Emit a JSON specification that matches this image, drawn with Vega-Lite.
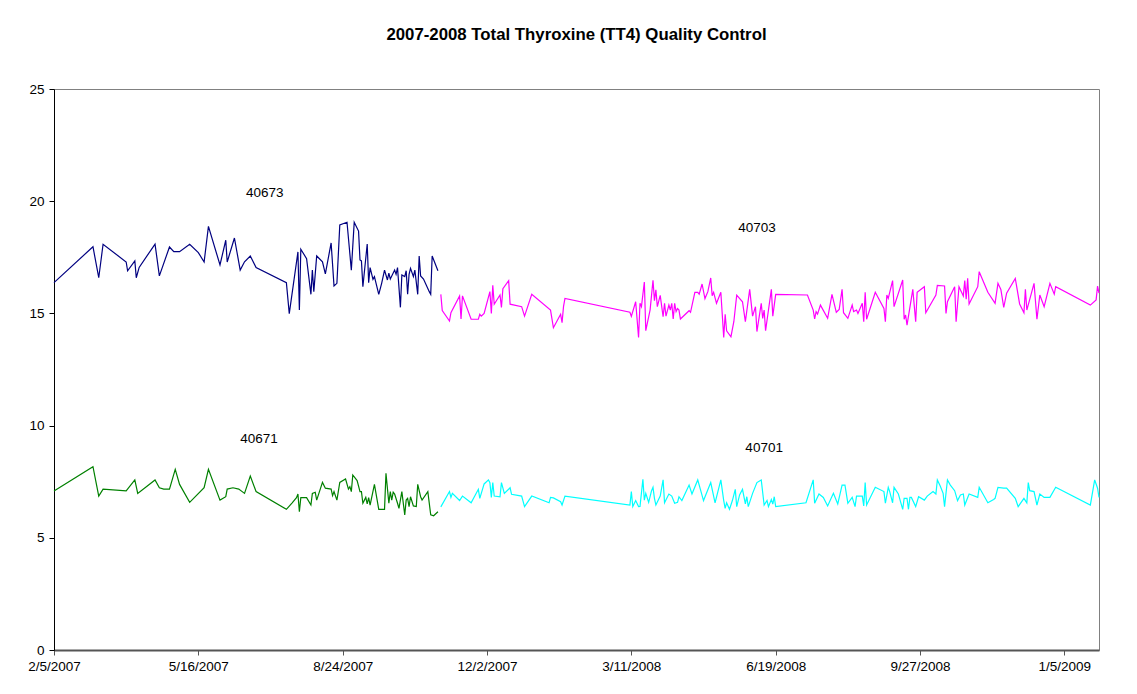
{
  "$schema": "https://vega.github.io/schema/vega-lite/v6.json",
  "autosize": "none",
  "width": 1045,
  "height": 561,
  "padding": {"left": 54, "top": 89, "right": 38, "bottom": 44},
  "background": "white",
  "title": {
    "text": "2007-2008 Total Thyroxine (TT4) Quality Control",
    "font": "Liberation Sans",
    "fontSize": 16.8,
    "fontWeight": "bold",
    "color": "black",
    "anchor": "middle",
    "offset": 38
  },
  "config": {
    "view": {"stroke": "#808080", "strokeWidth": 1},
    "axis": {
      "labelFont": "Liberation Sans",
      "labelFontSize": 13.5,
      "labelColor": "black",
      "grid": false,
      "title": null,
      "tickSize": 5,
      "labelPadding": 3
    }
  },
  "datasets": {
    "qc": [
      {"lot": "40673", "day": 0, "tt4": 16.37},
      {"lot": "40673", "day": 27, "tt4": 17.97},
      {"lot": "40673", "day": 31, "tt4": 16.59},
      {"lot": "40673", "day": 34, "tt4": 18.08},
      {"lot": "40673", "day": 50, "tt4": 17.29},
      {"lot": "40673", "day": 51, "tt4": 16.9},
      {"lot": "40673", "day": 56, "tt4": 17.34},
      {"lot": "40673", "day": 57, "tt4": 16.59},
      {"lot": "40673", "day": 59, "tt4": 17.05},
      {"lot": "40673", "day": 70, "tt4": 18.09},
      {"lot": "40673", "day": 73, "tt4": 16.67},
      {"lot": "40673", "day": 80, "tt4": 17.96},
      {"lot": "40673", "day": 83, "tt4": 17.75},
      {"lot": "40673", "day": 87, "tt4": 17.75},
      {"lot": "40673", "day": 94, "tt4": 18.08},
      {"lot": "40673", "day": 100, "tt4": 17.71},
      {"lot": "40673", "day": 104, "tt4": 17.29},
      {"lot": "40673", "day": 107, "tt4": 18.88},
      {"lot": "40673", "day": 115, "tt4": 17.16},
      {"lot": "40673", "day": 119, "tt4": 18.26},
      {"lot": "40673", "day": 120, "tt4": 17.29},
      {"lot": "40673", "day": 125, "tt4": 18.36},
      {"lot": "40673", "day": 129, "tt4": 16.93},
      {"lot": "40673", "day": 132, "tt4": 17.3},
      {"lot": "40673", "day": 136, "tt4": 17.56},
      {"lot": "40673", "day": 140, "tt4": 17.04},
      {"lot": "40673", "day": 161, "tt4": 16.37},
      {"lot": "40673", "day": 163, "tt4": 14.99},
      {"lot": "40673", "day": 169, "tt4": 17.74},
      {"lot": "40673", "day": 170, "tt4": 15.15},
      {"lot": "40673", "day": 171, "tt4": 17.86},
      {"lot": "40673", "day": 175, "tt4": 17.44},
      {"lot": "40673", "day": 178, "tt4": 15.85},
      {"lot": "40673", "day": 179, "tt4": 16.93},
      {"lot": "40673", "day": 180, "tt4": 15.97},
      {"lot": "40673", "day": 182, "tt4": 17.56},
      {"lot": "40673", "day": 186, "tt4": 17.3},
      {"lot": "40673", "day": 188, "tt4": 16.76},
      {"lot": "40673", "day": 192, "tt4": 18.14},
      {"lot": "40673", "day": 194, "tt4": 16.22},
      {"lot": "40673", "day": 196, "tt4": 16.34},
      {"lot": "40673", "day": 198, "tt4": 18.94},
      {"lot": "40673", "day": 203, "tt4": 19.06},
      {"lot": "40673", "day": 206, "tt4": 16.93},
      {"lot": "40673", "day": 208, "tt4": 19.06},
      {"lot": "40673", "day": 211, "tt4": 18.67},
      {"lot": "40673", "day": 212, "tt4": 17.38},
      {"lot": "40673", "day": 213, "tt4": 17.34},
      {"lot": "40673", "day": 214, "tt4": 16.19},
      {"lot": "40673", "day": 217, "tt4": 18.09},
      {"lot": "40673", "day": 218, "tt4": 16.37},
      {"lot": "40673", "day": 219, "tt4": 17.04},
      {"lot": "40673", "day": 221, "tt4": 16.52},
      {"lot": "40673", "day": 222, "tt4": 16.64},
      {"lot": "40673", "day": 225, "tt4": 15.85},
      {"lot": "40673", "day": 227, "tt4": 16.34},
      {"lot": "40673", "day": 229, "tt4": 16.93},
      {"lot": "40673", "day": 231, "tt4": 16.49},
      {"lot": "40673", "day": 232, "tt4": 16.79},
      {"lot": "40673", "day": 233, "tt4": 16.53},
      {"lot": "40673", "day": 236, "tt4": 16.93},
      {"lot": "40673", "day": 237, "tt4": 16.74},
      {"lot": "40673", "day": 238, "tt4": 17.04},
      {"lot": "40673", "day": 240, "tt4": 15.27},
      {"lot": "40673", "day": 241, "tt4": 16.71},
      {"lot": "40673", "day": 243, "tt4": 16.64},
      {"lot": "40673", "day": 244, "tt4": 16.9},
      {"lot": "40673", "day": 245, "tt4": 15.85},
      {"lot": "40673", "day": 246, "tt4": 16.74},
      {"lot": "40673", "day": 247, "tt4": 17.01},
      {"lot": "40673", "day": 249, "tt4": 16.64},
      {"lot": "40673", "day": 250, "tt4": 16.93},
      {"lot": "40673", "day": 252, "tt4": 15.85},
      {"lot": "40673", "day": 253, "tt4": 17.56},
      {"lot": "40673", "day": 254, "tt4": 16.67},
      {"lot": "40673", "day": 256, "tt4": 16.53},
      {"lot": "40673", "day": 260, "tt4": 15.97},
      {"lot": "40673", "day": 261, "tt4": 15.85},
      {"lot": "40673", "day": 262, "tt4": 17.56},
      {"lot": "40673", "day": 266, "tt4": 16.9},

      {"lot": "40671", "day": 0, "tt4": 7.09},
      {"lot": "40671", "day": 27, "tt4": 8.17},
      {"lot": "40671", "day": 31, "tt4": 6.86},
      {"lot": "40671", "day": 34, "tt4": 7.17},
      {"lot": "40671", "day": 50, "tt4": 7.09},
      {"lot": "40671", "day": 56, "tt4": 7.58},
      {"lot": "40671", "day": 58, "tt4": 6.98},
      {"lot": "40671", "day": 70, "tt4": 7.58},
      {"lot": "40671", "day": 73, "tt4": 7.23},
      {"lot": "40671", "day": 76, "tt4": 7.17},
      {"lot": "40671", "day": 80, "tt4": 7.17},
      {"lot": "40671", "day": 84, "tt4": 8.05},
      {"lot": "40671", "day": 87, "tt4": 7.38},
      {"lot": "40671", "day": 94, "tt4": 6.58},
      {"lot": "40671", "day": 104, "tt4": 7.23},
      {"lot": "40671", "day": 107, "tt4": 8.05},
      {"lot": "40671", "day": 115, "tt4": 6.68},
      {"lot": "40671", "day": 119, "tt4": 6.83},
      {"lot": "40671", "day": 120, "tt4": 7.17},
      {"lot": "40671", "day": 124, "tt4": 7.23},
      {"lot": "40671", "day": 128, "tt4": 7.17},
      {"lot": "40671", "day": 132, "tt4": 6.98},
      {"lot": "40671", "day": 136, "tt4": 7.75},
      {"lot": "40671", "day": 140, "tt4": 7.06},
      {"lot": "40671", "day": 161, "tt4": 6.27},
      {"lot": "40671", "day": 165, "tt4": 6.56},
      {"lot": "40671", "day": 168, "tt4": 6.79},
      {"lot": "40671", "day": 169, "tt4": 6.95},
      {"lot": "40671", "day": 170, "tt4": 6.16},
      {"lot": "40671", "day": 171, "tt4": 6.79},
      {"lot": "40671", "day": 175, "tt4": 6.79},
      {"lot": "40671", "day": 178, "tt4": 6.46},
      {"lot": "40671", "day": 179, "tt4": 6.98},
      {"lot": "40671", "day": 181, "tt4": 7.03},
      {"lot": "40671", "day": 182, "tt4": 6.68},
      {"lot": "40671", "day": 186, "tt4": 7.47},
      {"lot": "40671", "day": 188, "tt4": 7.21},
      {"lot": "40671", "day": 192, "tt4": 7.17},
      {"lot": "40671", "day": 193, "tt4": 6.88},
      {"lot": "40671", "day": 194, "tt4": 7.06},
      {"lot": "40671", "day": 196, "tt4": 6.68},
      {"lot": "40671", "day": 198, "tt4": 7.47},
      {"lot": "40671", "day": 202, "tt4": 7.62},
      {"lot": "40671", "day": 204, "tt4": 7.17},
      {"lot": "40671", "day": 205, "tt4": 7.28},
      {"lot": "40671", "day": 206, "tt4": 7.06},
      {"lot": "40671", "day": 207, "tt4": 7.8},
      {"lot": "40671", "day": 210, "tt4": 7.55},
      {"lot": "40671", "day": 212, "tt4": 7.06},
      {"lot": "40671", "day": 213, "tt4": 7.06},
      {"lot": "40671", "day": 214, "tt4": 6.54},
      {"lot": "40671", "day": 216, "tt4": 6.8},
      {"lot": "40671", "day": 217, "tt4": 6.51},
      {"lot": "40671", "day": 218, "tt4": 6.79},
      {"lot": "40671", "day": 219, "tt4": 6.46},
      {"lot": "40671", "day": 222, "tt4": 7.38},
      {"lot": "40671", "day": 225, "tt4": 6.27},
      {"lot": "40671", "day": 229, "tt4": 6.27},
      {"lot": "40671", "day": 230, "tt4": 7.87},
      {"lot": "40671", "day": 232, "tt4": 6.54},
      {"lot": "40671", "day": 233, "tt4": 7.06},
      {"lot": "40671", "day": 234, "tt4": 6.68},
      {"lot": "40671", "day": 235, "tt4": 7.03},
      {"lot": "40671", "day": 236, "tt4": 6.95},
      {"lot": "40671", "day": 238, "tt4": 6.54},
      {"lot": "40671", "day": 239, "tt4": 6.31},
      {"lot": "40671", "day": 241, "tt4": 7.06},
      {"lot": "40671", "day": 243, "tt4": 6.02},
      {"lot": "40671", "day": 244, "tt4": 6.68},
      {"lot": "40671", "day": 245, "tt4": 6.76},
      {"lot": "40671", "day": 246, "tt4": 6.39},
      {"lot": "40671", "day": 247, "tt4": 6.83},
      {"lot": "40671", "day": 249, "tt4": 6.42},
      {"lot": "40671", "day": 251, "tt4": 6.39},
      {"lot": "40671", "day": 252, "tt4": 7.38},
      {"lot": "40671", "day": 254, "tt4": 6.83},
      {"lot": "40671", "day": 255, "tt4": 6.68},
      {"lot": "40671", "day": 259, "tt4": 7.06},
      {"lot": "40671", "day": 261, "tt4": 6.02},
      {"lot": "40671", "day": 263, "tt4": 5.98},
      {"lot": "40671", "day": 266, "tt4": 6.16},

      {"lot": "40703", "day": 268, "tt4": 15.85},
      {"lot": "40703", "day": 269, "tt4": 15.13},
      {"lot": "40703", "day": 274, "tt4": 14.66},
      {"lot": "40703", "day": 275, "tt4": 15.03},
      {"lot": "40703", "day": 281, "tt4": 15.78},
      {"lot": "40703", "day": 282, "tt4": 14.75},
      {"lot": "40703", "day": 283, "tt4": 15.78},
      {"lot": "40703", "day": 289, "tt4": 14.74},
      {"lot": "40703", "day": 294, "tt4": 14.74},
      {"lot": "40703", "day": 295, "tt4": 14.96},
      {"lot": "40703", "day": 296, "tt4": 14.88},
      {"lot": "40703", "day": 298, "tt4": 15.0},
      {"lot": "40703", "day": 302, "tt4": 15.97},
      {"lot": "40703", "day": 303, "tt4": 15.0},
      {"lot": "40703", "day": 304, "tt4": 16.25},
      {"lot": "40703", "day": 305, "tt4": 15.41},
      {"lot": "40703", "day": 309, "tt4": 15.82},
      {"lot": "40703", "day": 310, "tt4": 15.27},
      {"lot": "40703", "day": 311, "tt4": 16.1},
      {"lot": "40703", "day": 315, "tt4": 16.46},
      {"lot": "40703", "day": 316, "tt4": 15.41},
      {"lot": "40703", "day": 324, "tt4": 15.3},
      {"lot": "40703", "day": 326, "tt4": 14.88},
      {"lot": "40703", "day": 331, "tt4": 15.85},
      {"lot": "40703", "day": 344, "tt4": 15.15},
      {"lot": "40703", "day": 346, "tt4": 14.36},
      {"lot": "40703", "day": 351, "tt4": 14.96},
      {"lot": "40703", "day": 352, "tt4": 14.59},
      {"lot": "40703", "day": 353, "tt4": 15.3},
      {"lot": "40703", "day": 354, "tt4": 15.67},
      {"lot": "40703", "day": 399, "tt4": 15.05},
      {"lot": "40703", "day": 400, "tt4": 14.87},
      {"lot": "40703", "day": 403, "tt4": 15.52},
      {"lot": "40703", "day": 405, "tt4": 13.93},
      {"lot": "40703", "day": 406, "tt4": 15.45},
      {"lot": "40703", "day": 407, "tt4": 15.3},
      {"lot": "40703", "day": 409, "tt4": 16.4},
      {"lot": "40703", "day": 410, "tt4": 14.23},
      {"lot": "40703", "day": 413, "tt4": 15.16},
      {"lot": "40703", "day": 415, "tt4": 16.48},
      {"lot": "40703", "day": 416, "tt4": 15.57},
      {"lot": "40703", "day": 417, "tt4": 16.05},
      {"lot": "40703", "day": 418, "tt4": 15.3},
      {"lot": "40703", "day": 420, "tt4": 15.8},
      {"lot": "40703", "day": 422, "tt4": 14.85},
      {"lot": "40703", "day": 423, "tt4": 15.45},
      {"lot": "40703", "day": 424, "tt4": 14.88},
      {"lot": "40703", "day": 426, "tt4": 15.37},
      {"lot": "40703", "day": 427, "tt4": 15.15},
      {"lot": "40703", "day": 428, "tt4": 15.45},
      {"lot": "40703", "day": 429, "tt4": 14.75},
      {"lot": "40703", "day": 430, "tt4": 15.45},
      {"lot": "40703", "day": 431, "tt4": 15.08},
      {"lot": "40703", "day": 432, "tt4": 15.22},
      {"lot": "40703", "day": 433, "tt4": 15.15},
      {"lot": "40703", "day": 434, "tt4": 14.75},
      {"lot": "40703", "day": 440, "tt4": 15.12},
      {"lot": "40703", "day": 441, "tt4": 15.05},
      {"lot": "40703", "day": 444, "tt4": 15.94},
      {"lot": "40703", "day": 446, "tt4": 15.94},
      {"lot": "40703", "day": 447, "tt4": 15.86},
      {"lot": "40703", "day": 449, "tt4": 16.31},
      {"lot": "40703", "day": 451, "tt4": 15.66},
      {"lot": "40703", "day": 453, "tt4": 15.97},
      {"lot": "40703", "day": 455, "tt4": 16.58},
      {"lot": "40703", "day": 456, "tt4": 15.79},
      {"lot": "40703", "day": 457, "tt4": 15.94},
      {"lot": "40703", "day": 459, "tt4": 15.45},
      {"lot": "40703", "day": 462, "tt4": 15.94},
      {"lot": "40703", "day": 464, "tt4": 13.93},
      {"lot": "40703", "day": 465, "tt4": 14.96},
      {"lot": "40703", "day": 466, "tt4": 14.22},
      {"lot": "40703", "day": 469, "tt4": 13.96},
      {"lot": "40703", "day": 471, "tt4": 14.63},
      {"lot": "40703", "day": 473, "tt4": 15.81},
      {"lot": "40703", "day": 477, "tt4": 15.52},
      {"lot": "40703", "day": 479, "tt4": 14.63},
      {"lot": "40703", "day": 482, "tt4": 16.07},
      {"lot": "40703", "day": 484, "tt4": 14.88},
      {"lot": "40703", "day": 486, "tt4": 15.3},
      {"lot": "40703", "day": 487, "tt4": 14.19},
      {"lot": "40703", "day": 490, "tt4": 15.45},
      {"lot": "40703", "day": 491, "tt4": 14.78},
      {"lot": "40703", "day": 492, "tt4": 15.15},
      {"lot": "40703", "day": 493, "tt4": 14.23},
      {"lot": "40703", "day": 495, "tt4": 15.15},
      {"lot": "40703", "day": 497, "tt4": 16.07},
      {"lot": "40703", "day": 498, "tt4": 14.88},
      {"lot": "40703", "day": 500, "tt4": 15.85},
      {"lot": "40703", "day": 522, "tt4": 15.82},
      {"lot": "40703", "day": 526, "tt4": 15.15},
      {"lot": "40703", "day": 527, "tt4": 14.75},
      {"lot": "40703", "day": 528, "tt4": 15.08},
      {"lot": "40703", "day": 529, "tt4": 14.97},
      {"lot": "40703", "day": 531, "tt4": 15.37},
      {"lot": "40703", "day": 536, "tt4": 14.78},
      {"lot": "40703", "day": 539, "tt4": 15.85},
      {"lot": "40703", "day": 542, "tt4": 15.05},
      {"lot": "40703", "day": 544, "tt4": 15.18},
      {"lot": "40703", "day": 546, "tt4": 16.07},
      {"lot": "40703", "day": 547, "tt4": 15.03},
      {"lot": "40703", "day": 550, "tt4": 14.78},
      {"lot": "40703", "day": 553, "tt4": 15.37},
      {"lot": "40703", "day": 554, "tt4": 15.08},
      {"lot": "40703", "day": 556, "tt4": 15.15},
      {"lot": "40703", "day": 557, "tt4": 15.0},
      {"lot": "40703", "day": 560, "tt4": 15.45},
      {"lot": "40703", "day": 561, "tt4": 14.63},
      {"lot": "40703", "day": 562, "tt4": 15.94},
      {"lot": "40703", "day": 563, "tt4": 14.74},
      {"lot": "40703", "day": 569, "tt4": 15.94},
      {"lot": "40703", "day": 575, "tt4": 15.22},
      {"lot": "40703", "day": 576, "tt4": 14.63},
      {"lot": "40703", "day": 577, "tt4": 15.82},
      {"lot": "40703", "day": 578, "tt4": 15.67},
      {"lot": "40703", "day": 581, "tt4": 16.46},
      {"lot": "40703", "day": 582, "tt4": 15.3},
      {"lot": "40703", "day": 588, "tt4": 16.49},
      {"lot": "40703", "day": 589, "tt4": 14.74},
      {"lot": "40703", "day": 590, "tt4": 14.93},
      {"lot": "40703", "day": 591, "tt4": 14.48},
      {"lot": "40703", "day": 595, "tt4": 16.07},
      {"lot": "40703", "day": 597, "tt4": 14.63},
      {"lot": "40703", "day": 598, "tt4": 15.94},
      {"lot": "40703", "day": 603, "tt4": 16.19},
      {"lot": "40703", "day": 604, "tt4": 15.03},
      {"lot": "40703", "day": 611, "tt4": 15.82},
      {"lot": "40703", "day": 612, "tt4": 16.25},
      {"lot": "40703", "day": 617, "tt4": 16.22},
      {"lot": "40703", "day": 618, "tt4": 15.0},
      {"lot": "40703", "day": 619, "tt4": 15.52},
      {"lot": "40703", "day": 624, "tt4": 16.19},
      {"lot": "40703", "day": 625, "tt4": 14.63},
      {"lot": "40703", "day": 627, "tt4": 16.19},
      {"lot": "40703", "day": 630, "tt4": 15.78},
      {"lot": "40703", "day": 631, "tt4": 16.46},
      {"lot": "40703", "day": 632, "tt4": 15.63},
      {"lot": "40703", "day": 633, "tt4": 16.56},
      {"lot": "40703", "day": 634, "tt4": 15.42},
      {"lot": "40703", "day": 640, "tt4": 16.19},
      {"lot": "40703", "day": 641, "tt4": 16.86},
      {"lot": "40703", "day": 647, "tt4": 15.94},
      {"lot": "40703", "day": 652, "tt4": 15.45},
      {"lot": "40703", "day": 654, "tt4": 16.34},
      {"lot": "40703", "day": 656, "tt4": 16.07},
      {"lot": "40703", "day": 658, "tt4": 15.27},
      {"lot": "40703", "day": 660, "tt4": 15.9},
      {"lot": "40703", "day": 666, "tt4": 16.56},
      {"lot": "40703", "day": 669, "tt4": 15.42},
      {"lot": "40703", "day": 672, "tt4": 15.03},
      {"lot": "40703", "day": 673, "tt4": 16.07},
      {"lot": "40703", "day": 674, "tt4": 15.15},
      {"lot": "40703", "day": 679, "tt4": 16.34},
      {"lot": "40703", "day": 681, "tt4": 14.74},
      {"lot": "40703", "day": 683, "tt4": 15.82},
      {"lot": "40703", "day": 686, "tt4": 15.3},
      {"lot": "40703", "day": 690, "tt4": 16.34},
      {"lot": "40703", "day": 693, "tt4": 15.86},
      {"lot": "40703", "day": 694, "tt4": 16.19},
      {"lot": "40703", "day": 718, "tt4": 15.37},
      {"lot": "40703", "day": 722, "tt4": 15.6},
      {"lot": "40703", "day": 723, "tt4": 16.22},
      {"lot": "40703", "day": 724, "tt4": 15.9},

      {"lot": "40701", "day": 268, "tt4": 6.38},
      {"lot": "40701", "day": 274, "tt4": 7.06},
      {"lot": "40701", "day": 275, "tt4": 6.8},
      {"lot": "40701", "day": 276, "tt4": 6.98},
      {"lot": "40701", "day": 281, "tt4": 6.66},
      {"lot": "40701", "day": 283, "tt4": 6.86},
      {"lot": "40701", "day": 289, "tt4": 6.56},
      {"lot": "40701", "day": 294, "tt4": 7.16},
      {"lot": "40701", "day": 295, "tt4": 6.76},
      {"lot": "40701", "day": 298, "tt4": 7.4},
      {"lot": "40701", "day": 301, "tt4": 7.58},
      {"lot": "40701", "day": 302, "tt4": 7.46},
      {"lot": "40701", "day": 303, "tt4": 6.8},
      {"lot": "40701", "day": 304, "tt4": 7.46},
      {"lot": "40701", "day": 305, "tt4": 6.86},
      {"lot": "40701", "day": 309, "tt4": 6.83},
      {"lot": "40701", "day": 310, "tt4": 7.46},
      {"lot": "40701", "day": 312, "tt4": 6.98},
      {"lot": "40701", "day": 316, "tt4": 7.23},
      {"lot": "40701", "day": 317, "tt4": 6.94},
      {"lot": "40701", "day": 324, "tt4": 6.86},
      {"lot": "40701", "day": 326, "tt4": 6.39},
      {"lot": "40701", "day": 331, "tt4": 6.86},
      {"lot": "40701", "day": 343, "tt4": 6.56},
      {"lot": "40701", "day": 344, "tt4": 6.8},
      {"lot": "40701", "day": 346, "tt4": 6.78},
      {"lot": "40701", "day": 351, "tt4": 6.61},
      {"lot": "40701", "day": 352, "tt4": 6.46},
      {"lot": "40701", "day": 354, "tt4": 6.86},
      {"lot": "40701", "day": 399, "tt4": 6.46},
      {"lot": "40701", "day": 400, "tt4": 7.06},
      {"lot": "40701", "day": 401, "tt4": 6.39},
      {"lot": "40701", "day": 403, "tt4": 6.66},
      {"lot": "40701", "day": 405, "tt4": 6.39},
      {"lot": "40701", "day": 406, "tt4": 6.4},
      {"lot": "40701", "day": 408, "tt4": 7.61},
      {"lot": "40701", "day": 409, "tt4": 6.68},
      {"lot": "40701", "day": 410, "tt4": 6.98},
      {"lot": "40701", "day": 412, "tt4": 6.58},
      {"lot": "40701", "day": 414, "tt4": 7.1},
      {"lot": "40701", "day": 415, "tt4": 7.25},
      {"lot": "40701", "day": 416, "tt4": 6.76},
      {"lot": "40701", "day": 417, "tt4": 6.46},
      {"lot": "40701", "day": 420, "tt4": 6.86},
      {"lot": "40701", "day": 422, "tt4": 7.58},
      {"lot": "40701", "day": 423, "tt4": 6.56},
      {"lot": "40701", "day": 426, "tt4": 6.95},
      {"lot": "40701", "day": 428, "tt4": 6.86},
      {"lot": "40701", "day": 430, "tt4": 6.54},
      {"lot": "40701", "day": 432, "tt4": 6.58},
      {"lot": "40701", "day": 433, "tt4": 6.83},
      {"lot": "40701", "day": 435, "tt4": 6.66},
      {"lot": "40701", "day": 440, "tt4": 7.35},
      {"lot": "40701", "day": 442, "tt4": 6.95},
      {"lot": "40701", "day": 446, "tt4": 7.58},
      {"lot": "40701", "day": 450, "tt4": 6.66},
      {"lot": "40701", "day": 455, "tt4": 7.46},
      {"lot": "40701", "day": 458, "tt4": 6.56},
      {"lot": "40701", "day": 462, "tt4": 7.58},
      {"lot": "40701", "day": 464, "tt4": 6.66},
      {"lot": "40701", "day": 465, "tt4": 6.31},
      {"lot": "40701", "day": 466, "tt4": 6.56},
      {"lot": "40701", "day": 468, "tt4": 6.27},
      {"lot": "40701", "day": 470, "tt4": 6.66},
      {"lot": "40701", "day": 472, "tt4": 7.16},
      {"lot": "40701", "day": 473, "tt4": 6.39},
      {"lot": "40701", "day": 475, "tt4": 6.91},
      {"lot": "40701", "day": 477, "tt4": 7.16},
      {"lot": "40701", "day": 479, "tt4": 6.51},
      {"lot": "40701", "day": 480, "tt4": 6.83},
      {"lot": "40701", "day": 481, "tt4": 6.39},
      {"lot": "40701", "day": 484, "tt4": 6.98},
      {"lot": "40701", "day": 487, "tt4": 7.46},
      {"lot": "40701", "day": 490, "tt4": 7.58},
      {"lot": "40701", "day": 492, "tt4": 6.46},
      {"lot": "40701", "day": 494, "tt4": 6.66},
      {"lot": "40701", "day": 495, "tt4": 6.39},
      {"lot": "40701", "day": 497, "tt4": 6.71},
      {"lot": "40701", "day": 498, "tt4": 6.5},
      {"lot": "40701", "day": 499, "tt4": 6.83},
      {"lot": "40701", "day": 500, "tt4": 6.39},
      {"lot": "40701", "day": 521, "tt4": 6.56},
      {"lot": "40701", "day": 526, "tt4": 7.58},
      {"lot": "40701", "day": 527, "tt4": 6.54},
      {"lot": "40701", "day": 530, "tt4": 6.95},
      {"lot": "40701", "day": 533, "tt4": 6.8},
      {"lot": "40701", "day": 536, "tt4": 6.42},
      {"lot": "40701", "day": 540, "tt4": 6.98},
      {"lot": "40701", "day": 543, "tt4": 6.51},
      {"lot": "40701", "day": 546, "tt4": 7.35},
      {"lot": "40701", "day": 548, "tt4": 7.35},
      {"lot": "40701", "day": 550, "tt4": 6.54},
      {"lot": "40701", "day": 553, "tt4": 6.8},
      {"lot": "40701", "day": 555, "tt4": 6.39},
      {"lot": "40701", "day": 556, "tt4": 6.86},
      {"lot": "40701", "day": 560, "tt4": 6.86},
      {"lot": "40701", "day": 561, "tt4": 6.42},
      {"lot": "40701", "day": 562, "tt4": 7.46},
      {"lot": "40701", "day": 563, "tt4": 6.46},
      {"lot": "40701", "day": 569, "tt4": 7.25},
      {"lot": "40701", "day": 575, "tt4": 7.06},
      {"lot": "40701", "day": 576, "tt4": 6.54},
      {"lot": "40701", "day": 578, "tt4": 7.25},
      {"lot": "40701", "day": 579, "tt4": 7.06},
      {"lot": "40701", "day": 581, "tt4": 6.56},
      {"lot": "40701", "day": 582, "tt4": 7.25},
      {"lot": "40701", "day": 585, "tt4": 6.95},
      {"lot": "40701", "day": 588, "tt4": 6.27},
      {"lot": "40701", "day": 589, "tt4": 6.76},
      {"lot": "40701", "day": 591, "tt4": 6.76},
      {"lot": "40701", "day": 592, "tt4": 6.27},
      {"lot": "40701", "day": 593, "tt4": 6.8},
      {"lot": "40701", "day": 594, "tt4": 6.8},
      {"lot": "40701", "day": 597, "tt4": 6.39},
      {"lot": "40701", "day": 599, "tt4": 6.83},
      {"lot": "40701", "day": 603, "tt4": 6.68},
      {"lot": "40701", "day": 605, "tt4": 6.86},
      {"lot": "40701", "day": 609, "tt4": 7.06},
      {"lot": "40701", "day": 611, "tt4": 6.95},
      {"lot": "40701", "day": 612, "tt4": 7.58},
      {"lot": "40701", "day": 614, "tt4": 7.31},
      {"lot": "40701", "day": 616, "tt4": 6.98},
      {"lot": "40701", "day": 617, "tt4": 6.39},
      {"lot": "40701", "day": 619, "tt4": 7.58},
      {"lot": "40701", "day": 621, "tt4": 7.35},
      {"lot": "40701", "day": 624, "tt4": 7.1},
      {"lot": "40701", "day": 626, "tt4": 6.66},
      {"lot": "40701", "day": 628, "tt4": 6.91},
      {"lot": "40701", "day": 630, "tt4": 6.95},
      {"lot": "40701", "day": 631, "tt4": 6.46},
      {"lot": "40701", "day": 634, "tt4": 6.95},
      {"lot": "40701", "day": 640, "tt4": 6.8},
      {"lot": "40701", "day": 641, "tt4": 7.25},
      {"lot": "40701", "day": 647, "tt4": 6.56},
      {"lot": "40701", "day": 651, "tt4": 6.71},
      {"lot": "40701", "day": 652, "tt4": 6.76},
      {"lot": "40701", "day": 654, "tt4": 7.25},
      {"lot": "40701", "day": 658, "tt4": 7.21},
      {"lot": "40701", "day": 660, "tt4": 7.21},
      {"lot": "40701", "day": 666, "tt4": 6.76},
      {"lot": "40701", "day": 668, "tt4": 6.39},
      {"lot": "40701", "day": 672, "tt4": 6.76},
      {"lot": "40701", "day": 674, "tt4": 6.56},
      {"lot": "40701", "day": 675, "tt4": 7.46},
      {"lot": "40701", "day": 676, "tt4": 7.1},
      {"lot": "40701", "day": 679, "tt4": 7.06},
      {"lot": "40701", "day": 681, "tt4": 6.46},
      {"lot": "40701", "day": 683, "tt4": 6.95},
      {"lot": "40701", "day": 686, "tt4": 6.8},
      {"lot": "40701", "day": 690, "tt4": 6.8},
      {"lot": "40701", "day": 694, "tt4": 7.25},
      {"lot": "40701", "day": 718, "tt4": 6.46},
      {"lot": "40701", "day": 721, "tt4": 7.58},
      {"lot": "40701", "day": 723, "tt4": 7.21},
      {"lot": "40701", "day": 724, "tt4": 6.8}
    ],
    "labels": [
      {"lot": "40673", "day": 146, "tt4": 20.37},
      {"lot": "40703", "day": 487, "tt4": 18.81},
      {"lot": "40671", "day": 142, "tt4": 9.4},
      {"lot": "40701", "day": 492, "tt4": 9.0}
    ]
  },
  "layer": [
    {
      "data": {"name": "qc"},
      "mark": {"type": "line", "strokeWidth": 1.2, "interpolate": "linear"},
      "encoding": {
        "x": {
          "field": "day",
          "type": "quantitative",
          "scale": {"domain": [0, 724], "nice": false, "zero": false},
          "axis": {
            "values": [0, 100, 200, 300, 400, 500, 600, 700],
            "labelExpr": "timeFormat(datetime(2007, 1, 5 + datum.value), '%-m/%-d/%Y')",
            "domainColor": "#555555",
            "domainWidth": 2,
            "tickColor": "#555555",
            "labelPadding": 4,
            "labelFlush": false,
            "labelOverlap": false
          }
        },
        "y": {
          "field": "tt4",
          "type": "quantitative",
          "scale": {"domain": [0, 25], "nice": false},
          "axis": {
            "values": [0, 5, 10, 15, 20, 25],
            "domainColor": "black",
            "tickColor": "black",
            "labelPadding": 5
          }
        },
        "color": {
          "field": "lot",
          "type": "nominal",
          "scale": {"domain": ["40673", "40671", "40703", "40701"], "range": ["#000080", "#008000", "#FF00FF", "#00FFFF"]},
          "legend": null
        }
      }
    },
    {
      "data": {"name": "labels"},
      "mark": {"type": "text", "font": "Liberation Sans", "fontSize": 13.5, "color": "black", "align": "center", "baseline": "middle"},
      "encoding": {
        "x": {"field": "day", "type": "quantitative"},
        "y": {"field": "tt4", "type": "quantitative"},
        "text": {"field": "lot", "type": "nominal"}
      }
    }
  ]
}
